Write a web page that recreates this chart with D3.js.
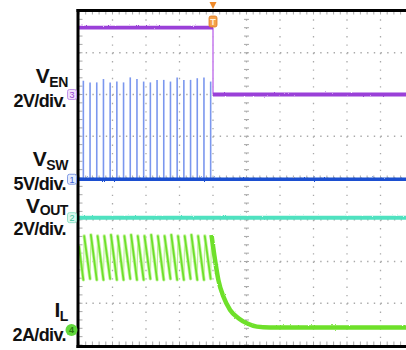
<!DOCTYPE html>
<html><head><meta charset="utf-8">
<script src="https://cdn.jsdelivr.net/npm/d3@7"></script>
<style>html,body{margin:0;padding:0;background:#fff;overflow:hidden}</style>
</head><body>
<svg id="c" width="406" height="350"></svg>
<script>
// ---- data (time in scope divisions) ----
const triggerTime = 4.0;
// VSW switching pulses (time, peak volts)
const swTimes = [0.13,0.33,0.53,0.73,0.93,1.13,1.33,1.53,1.73,1.93,2.13,2.33,2.53,2.73,2.93,3.13,3.33,3.53,3.73,3.93];
const swPeaks = [11.8,11.6,11.6,12.0,11.6,11.7,11.6,12.2,12.0,11.7,11.6,11.9,11.9,11.7,12.2,11.9,11.9,12.1,12.2,11.7];
const vswBaseT = [0, 10];
const vswBaseV = [0, 0];
// VEN (volts)
const venT = [0, 4.0, 4.0, 10];
const venV = [3.2, 3.2, 0, 0];
// VOUT (volts)
const voutT = [0, 10];
const voutV = [0, 0];
// IL sawtooth (amps)
const ilStart = 4.0;
const ilPeaks   = [4.5,4.55,4.5,4.5,4.55,4.5,4.5,4.55,4.5,4.5,4.55,4.5,4.5,4.55,4.5,4.5,4.55,4.5,4.5,4.55];
const ilValleys = [2.4,2.45,2.4,2.4,2.45,2.4,2.4,2.45,2.4,2.4,2.45,2.4,2.4,2.45,2.4,2.4,2.45,2.4,2.4,2.45];
const ilRise = 0.025;
const ilDecayT = [4.06, 4.16, 4.31, 4.51, 4.76, 5.01, 5.31, 5.7, 10];
const ilDecayA = [3.36, 2.4, 1.6, 0.96, 0.56, 0.32, 0.16, 0.12, 0.12];
// channel labels
const labels = [
  {main:"V", sub:"EN",  scale:"2V/div.", y:83,  subDy:4,   gap:24},
  {main:"V", sub:"SW",  scale:"5V/div.", y:166, subDy:4,   gap:24},
  {main:"V", sub:"OUT", scale:"2V/div.", y:213, subDy:1.5, gap:21.5},
  {main:"I", sub:"L",   scale:"2A/div.", y:317, subDy:4,   gap:24}
];

// ---- scales ----
const svg = d3.select("#c");
const x = d3.scaleLinear().domain([0, 10]).range([79, 414]);
const yDiv = d3.scaleLinear().domain([0, 8]).range([345, 11]);
const ch = {
  ven:  {off:6.0,  per:2, color:"#9a3fd8"},
  vsw:  {off:3.97, per:5, color:"#1a4fd0"},
  vout: {off:3.05, per:2, color:"#4fe2c0"},
  il:   {off:0.36, per:2, color:"#6ee02a"}
};
const yc = (c, v) => yDiv(ch[c].off + v / ch[c].per);

// fuzz filter
const defs = svg.append("defs");
const f = defs.append("filter").attr("id","fz").attr("filterUnits","userSpaceOnUse")
  .attr("x",0).attr("y",0).attr("width",406).attr("height",350);
f.append("feTurbulence").attr("type","fractalNoise").attr("baseFrequency","0.9").attr("numOctaves",1).attr("seed",3).attr("result","n");
f.append("feDisplacementMap").attr("in","SourceGraphic").attr("in2","n").attr("scale",2.2)
  .attr("xChannelSelector","R").attr("yChannelSelector","G");

// ---- grid ----
const g = svg.append("g");
const gridColor = "#a9a9a9";
d3.range(1, 8).forEach(k => {
  g.append("line").attr("x1", x(0)).attr("x2", 406).attr("y1", yDiv(k)).attr("y2", yDiv(k))
    .attr("stroke", gridColor).attr("stroke-width", 1.3).attr("stroke-dasharray", "1.4 5.3");
});
d3.range(1, 10).forEach(k => {
  g.append("line").attr("x1", x(k)).attr("x2", x(k)).attr("y1", yDiv(8)).attr("y2", yDiv(0))
    .attr("stroke", gridColor).attr("stroke-width", 1.3).attr("stroke-dasharray", "1.4 6.95");
});
const minorX = d3.range(0, 10.01, 0.2);
const minorY = d3.range(0, 8.01, 0.2);
minorX.forEach(t => {
  g.append("line").attr("x1", x(t)).attr("x2", x(t)).attr("y1", yDiv(4) - 2.5).attr("y2", yDiv(4) + 2.5)
    .attr("stroke", gridColor).attr("stroke-width", 1);
  g.append("line").attr("x1", x(t)).attr("x2", x(t)).attr("y1", yDiv(8)).attr("y2", yDiv(8) + 3.5)
    .attr("stroke", gridColor).attr("stroke-width", 1);
  g.append("line").attr("x1", x(t)).attr("x2", x(t)).attr("y1", yDiv(0) - 3.5).attr("y2", yDiv(0))
    .attr("stroke", gridColor).attr("stroke-width", 1);
});
minorY.forEach(v => {
  g.append("line").attr("x1", x(5) - 2.5).attr("x2", x(5) + 2.5).attr("y1", yDiv(v)).attr("y2", yDiv(v))
    .attr("stroke", gridColor).attr("stroke-width", 1);
  g.append("line").attr("x1", x(0)).attr("x2", x(0) + 3.5).attr("y1", yDiv(v)).attr("y2", yDiv(v))
    .attr("stroke", gridColor).attr("stroke-width", 1);
});

// ---- traces ----
const line = d3.line();
const tr = svg.append("g");

// VOUT
tr.append("path").attr("d", line(voutT.map((t,i)=>[x(t), yc("vout", voutV[i])])))
  .attr("fill","none").attr("stroke", ch.vout.color).attr("stroke-width", 4).attr("filter","url(#fz)");

// IL sawtooth: fast rises (faint) and slow falls (bold)
const rises = [], falls = [];
let prev = [x(0), yc("il", ilStart)];
swTimes.forEach((t,i) => {
  const v = [x(t), yc("il", ilValleys[i])];
  const p = [x(t + ilRise), yc("il", ilPeaks[i])];
  falls.push([prev, v]);
  rises.push([v, p]);
  prev = p;
});
rises.forEach(s => tr.append("path").attr("d", line(s)).attr("fill","none")
  .attr("stroke", "#bff29a").attr("stroke-width", 1.2));
falls.forEach(s => {
  tr.append("path").attr("d", line(s)).attr("fill","none")
    .attr("stroke", "#c4f4a0").attr("stroke-width", 3.4).attr("stroke-linecap","round");
  tr.append("path").attr("d", line(s)).attr("fill","none")
    .attr("stroke", ch.il.color).attr("stroke-width", 1.8).attr("stroke-linecap","round");
});
// IL decay
const last = swTimes.length - 1;
const dec = [[x(swTimes[last] + ilRise), yc("il", ilPeaks[last])]]
  .concat(ilDecayT.map((t,i)=>[x(t), yc("il", ilDecayA[i])]));
tr.append("path").attr("d", d3.line().curve(d3.curveMonotoneX)(dec)).attr("fill","none")
  .attr("stroke", ch.il.color).attr("stroke-width", 4.5).attr("filter","url(#fz)");

// VSW spikes
swTimes.forEach((t,i) => {
  tr.append("line").attr("x1", x(t)).attr("x2", x(t)).attr("y1", yc("vsw", 0)).attr("y2", yc("vsw", swPeaks[i]))
    .attr("stroke", "#7b97ee").attr("stroke-width", 1.6);
});
// VSW baseline
tr.append("path").attr("d", line(vswBaseT.map((t,i)=>[x(t), yc("vsw", vswBaseV[i])])))
  .attr("fill","none").attr("stroke", ch.vsw.color).attr("stroke-width", 3.6).attr("filter","url(#fz)");

// VEN: edge then levels
tr.append("line").attr("x1", x(venT[1])).attr("x2", x(venT[2]))
  .attr("y1", yc("ven", venV[1])).attr("y2", yc("ven", venV[2]))
  .attr("stroke", "#cf8ff0").attr("stroke-width", 1.8);
[[0,1],[2,3]].forEach(([a,b]) => {
  tr.append("path").attr("d", line([[x(venT[a]), yc("ven", venV[a])],[x(venT[b]), yc("ven", venV[b])]]))
    .attr("fill","none").attr("stroke", ch.ven.color).attr("stroke-width", 3.8).attr("filter","url(#fz)");
});

// ---- frame ----
svg.append("line").attr("x1", 78).attr("x2", 78).attr("y1", 9).attr("y2", 348).attr("stroke","#000").attr("stroke-width",3);
svg.append("line").attr("x1", 76.5).attr("x2", 406).attr("y1", 10.5).attr("y2", 10.5).attr("stroke","#000").attr("stroke-width",3);
svg.append("line").attr("x1", 76.5).attr("x2", 406).attr("y1", 346.5).attr("y2", 346.5).attr("stroke","#000").attr("stroke-width",3);

// trigger marker
const tx = x(triggerTime);
svg.append("path").attr("d", `M${tx-3.5},2 L${tx+3.5},2 L${tx},9 Z`).attr("fill","#f08a2a");
svg.append("rect").attr("x", tx-4).attr("y", 16).attr("width", 8).attr("height", 11).attr("rx", 2)
  .attr("fill","#f4a04a").attr("stroke","#e07a1a").attr("stroke-width",0.8);
svg.append("text").attr("x", tx).attr("y", 25).attr("text-anchor","middle")
  .attr("font-family","Liberation Sans, Arial, sans-serif").attr("font-size",9).attr("font-weight","bold")
  .attr("fill","#fff4e0").text("T");

// channel markers
const mk = [
  {c:"ven", n:"3", fill:"#efe0fb", stroke:"#b47de6", tc:"#9a3fd8"},
  {c:"vsw", n:"1", fill:"#e6edfc", stroke:"#6685e0", tc:"#3a60d8"},
  {c:"vout", n:"2", fill:"#dcf8ee", stroke:"#7fe0c0", tc:"#3fc4a0"}
];
mk.forEach(m => {
  const yy = yDiv(ch[m.c].off);
  svg.append("rect").attr("x", 67.5).attr("y", yy-5).attr("width", 9).attr("height", 10).attr("rx", 2)
    .attr("fill", m.fill).attr("stroke", m.stroke).attr("stroke-width", 0.8);
  svg.append("text").attr("x", 72).attr("y", yy+3.5).attr("text-anchor","middle")
    .attr("font-family","Liberation Sans, Arial, sans-serif").attr("font-size",9).attr("fill", m.tc).text(m.n);
});
{
  const yy = yDiv(ch.il.off);
  svg.append("circle").attr("cx", 71.5).attr("cy", yy).attr("r", 6).attr("fill", "#62d83c");
  svg.append("text").attr("x", 71.5).attr("y", yy+3.5).attr("text-anchor","middle")
    .attr("font-family","Liberation Sans, Arial, sans-serif").attr("font-size",9).attr("font-weight","bold")
    .attr("fill", "#2a7a10").text("4");
}

// ---- labels ----
const ff = "Liberation Sans, Arial, Helvetica, sans-serif";
labels.forEach(l => {
  const t = svg.append("text").attr("x", 68).attr("y", l.y).attr("text-anchor","end")
    .attr("font-family", ff).attr("font-weight","bold").attr("fill","#111").attr("letter-spacing", -0.4);
  t.append("tspan").attr("font-size", 21).text(l.main);
  t.append("tspan").attr("font-size", 14).attr("dy", l.subDy).text(l.sub);
  svg.append("text").attr("x", 66).attr("y", l.y + l.gap).attr("text-anchor","end")
    .attr("font-family", ff).attr("font-weight","bold").attr("font-size", 18).attr("fill","#111")
    .attr("letter-spacing", -0.6).text(l.scale);
});
</script>
</body></html>
